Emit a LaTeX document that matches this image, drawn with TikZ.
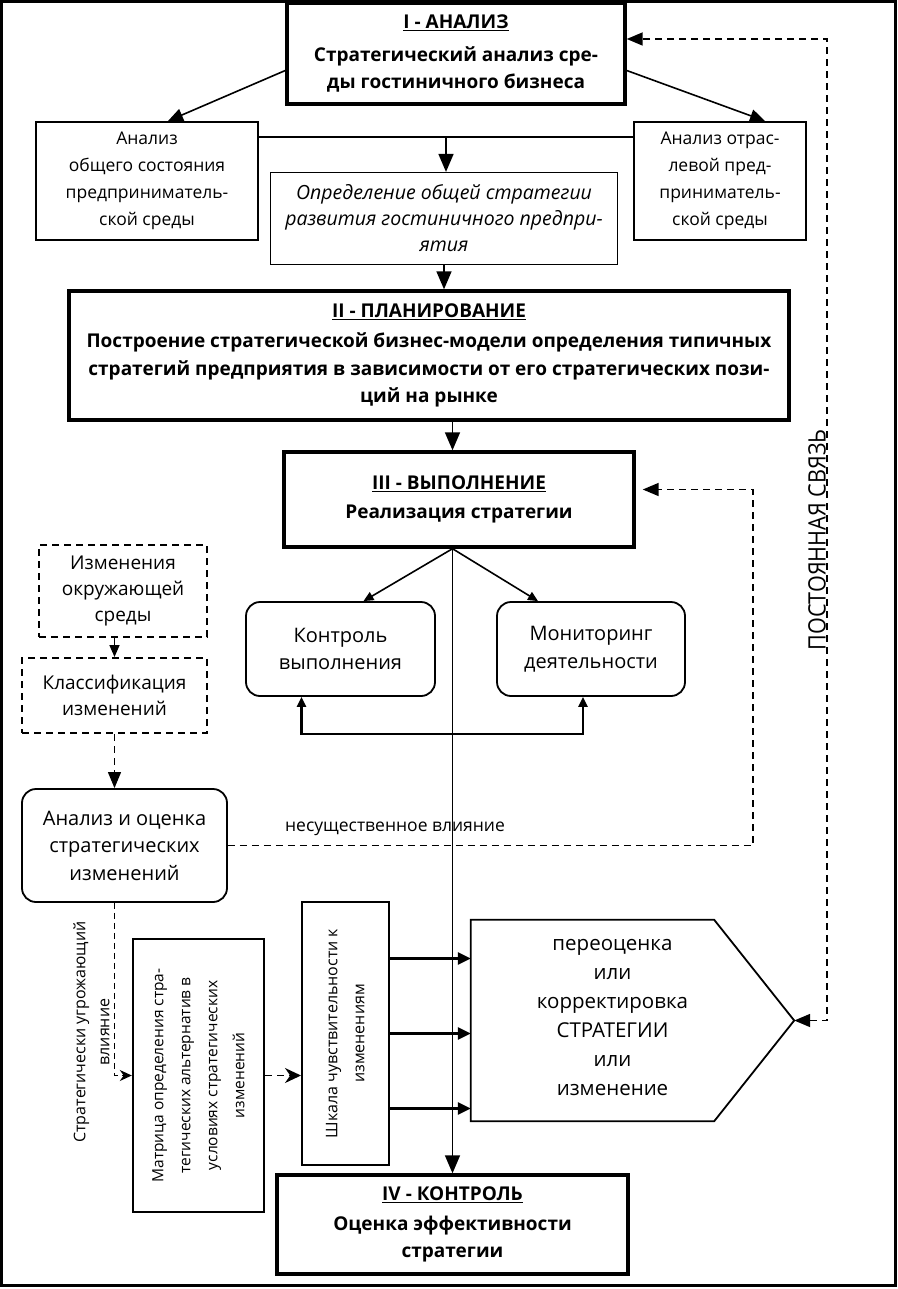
\documentclass[tikz,border=0pt]{standalone}
\usepackage{fontspec}
\setmainfont{Open Sans}
\usetikzlibrary{arrows.meta,calc}

\begin{document}
\begin{tikzpicture}[
  x=1pt,y=-1pt,
  every node/.style={align=center,inner sep=2pt,font=\fontsize{17.5}{27}\selectfont},
  stage/.style={draw,line width=3.4pt,font=\bfseries\fontsize{19}{27.5}\selectfont},
  box/.style={draw,line width=2pt},
  note/.style={draw,line width=1.2pt,font=\itshape\fontsize{19.5}{26}\selectfont},
  rbox/.style={draw,line width=1.8pt,rounded corners=14pt,font=\fontsize{20}{27.5}\selectfont},
  dbox/.style={draw,line width=2pt,dash pattern=on 7pt off 5pt,font=\fontsize{19}{26}\selectfont},
  vtext/.style={font=\fontsize{16}{24}\selectfont},
  arr/.style={-{Triangle[length=18pt,width=15pt]},line width=1.6pt},
  sarr/.style={-{Triangle[length=10pt,width=9pt]},line width=1.6pt},
  darr/.style={-{Triangle[length=16pt,width=13pt]},line width=1.6pt,dash pattern=on 7pt off 5pt}
]
  \useasboundingbox (0,0) rectangle (897,1289);
  \draw[line width=3pt] (1.5,1.5) rectangle (895.5,1285);

  % stages
  \node[stage,minimum width=338,minimum height=101] (phaseI) at (456,53.5)
    {\underline{I - АНАЛИЗ}\\[5pt]Стратегический анализ сре-\\ды гостиничного бизнеса};
  \node[stage,minimum width=720,minimum height=129] (phaseII) at (429,355.5)
    {\underline{II - ПЛАНИРОВАНИЕ}\\[3pt]Построение стратегической бизнес-модели определения типичных\\
     стратегий предприятия в зависимости от его стратегических пози-\\ций на рынке};
  \node[stage,minimum width=350,minimum height=95] (phaseIII) at (459,499.5)
    {\underline{III - ВЫПОЛНЕНИЕ}\\[1pt]Реализация стратегии};
  \node[stage,minimum width=351,minimum height=99] (phaseIV) at (452.5,1224.5)
    {\underline{IV - КОНТРОЛЬ}\\[2pt]Оценка эффективности\\стратегии};

  % analysis level
  \node[box,minimum width=222,minimum height=118] (env) at (147,181)
    {Анализ\\общего состояния\\предприниматель-\\ской среды};
  \node[box,minimum width=172,minimum height=118] (ind) at (720,181)
    {Анализ отрас-\\левой пред-\\приниматель-\\ской среды};
  \node[note,minimum width=347,minimum height=92] (gen) at (444,218.5)
    {Определение общей стратегии\\развития гостиничного предпри-\\ятия};

  % execution level
  \node[rbox,minimum width=189,minimum height=94] (ctrl) at (340.5,649)
    {Контроль\\выполнения};
  \node[rbox,minimum width=188,minimum height=94] (mon) at (591,649)
    {Мониторинг\\деятельности};

  % changes
  \node[dbox,minimum width=168,minimum height=92] (chg) at (123,591)
    {Изменения\\окружающей\\среды};
  \node[dbox,minimum width=185,minimum height=75] (cls) at (114.5,695.5)
    {Классификация\\изменений};
  \node[rbox,minimum width=205,minimum height=113] (eval) at (124.5,845.5)
    {Анализ и оценка\\стратегических\\изменений};
  \node[box,line width=2.4pt,minimum width=131,minimum height=273] (matrix) at (198.5,1075.5)
    {\rotatebox{90}{\fontsize{15.5}{27}\selectfont\begin{tabular}{@{}c@{}}Матрица определения стра-\\тегических альтернатив в\\
     условиях стратегических\\изменений\end{tabular}}};
  \node[box,minimum width=87,minimum height=263] (shkala) at (345.5,1033.5)
    {\rotatebox{90}{\fontsize{16}{27}\selectfont\begin{tabular}{@{}c@{}}Шкала чувствительности к\\изменениям\end{tabular}}};
  \node[minimum width=243,minimum height=201] (revise) at (592.5,1020.5) {};
  \coordinate (apex) at ($(revise.east)+(80,0)$);
  \draw[line width=1.8pt] (revise.north west) -- (revise.north east) -- (apex)
    -- (revise.south east) -- (revise.south west) -- cycle;
  \node[font=\fontsize{20.5}{29}\selectfont] (reviseText) at ($(revise.center)+(20,-3)$)
    {переоценка\\или\\корректировка\\СТРАТЕГИИ\\или\\изменение};

  % connectors
  \draw[-{Triangle[length=15pt,width=13pt]},line width=1.6pt] ($(phaseI.west)+(0,17)$) -- ($(env.north)+(21,0)$);
  \draw[-{Triangle[length=15pt,width=13pt]},line width=1.6pt] ($(phaseI.east)+(0,17)$) -- ($(ind.north)+(45,0)$);
  \draw[line width=2.8pt] ($(env.north east)+(0,16)$) -- ($(ind.north west)+(0,16)$);
  \coordinate (join) at ($(env.north east)!0.5!(ind.north west)+(0,16)$);
  \draw[arr] (join) -- (join |- gen.north);
  \draw[arr] (gen.south) -- (gen.south |- phaseII.north);
  \draw[arr] (phaseII.south -| phaseIV.north) -- (phaseIII.north -| phaseIV.north);
  \coordinate (split) at (phaseIII.south -| phaseIV.north);
  \draw[arr] (split) -- (phaseIV.north);
  \draw[sarr] (split) -- ($(ctrl.north)+(23,0)$);
  \draw[sarr] (split) -- ($(mon.north)+(-53,0)$);
  \draw[{Triangle[length=10pt,width=9pt]}-{Triangle[length=10pt,width=9pt]},line width=2.6pt]
    ($(ctrl.south)+(-39,0)$) -- ++(0,37) -| ($(mon.south)+(-8,0)$);

  \draw[darr,-{Triangle[length=12pt,width=10pt]}] (cls.north |- chg.south) -- (cls.north);
  \draw[darr,line width=1.2pt] (cls.south) -- (cls.south |- eval.north);
  \draw[darr] (eval.east) -- ++(525,0) |- ($(phaseIII.east)+(7,-10)$);
  \node (minor) at (395,829) {несущественное влияние};
  \draw[darr,line width=1.2pt,dash pattern=on 6pt off 4pt,-{Stealth[length=12pt,width=11pt]}]
    (eval.south -| cls.south) |- (matrix.west);
  \node[vtext,rotate=90] (threat) at (91.5,1032) {Стратегически угрожающий\\влияние};
  \draw[darr,-{Stealth[length=16pt,width=15pt]}] (matrix.east) -- (matrix.east -| shkala.west);
  \foreach \dy [count=\i] in {-75,0,75} {
    \coordinate (s\i) at ($(shkala.east)+(0,\dy)$);
    \draw[-{Triangle[length=13pt,width=12pt]},line width=2.6pt] (s\i) -- (s\i -| revise.west);
  }
  \draw[{Triangle[length=16pt,width=13pt]}-{Triangle[length=16pt,width=13pt]},line width=1.8pt,
    dash pattern=on 7pt off 5pt] (apex) -- ++(33,0) |- ($(phaseI.east)+(0,-14.5)$);
  \node[rotate=90,anchor=south,inner sep=1pt] (link) at (827,540)
    {\scalebox{0.9}[1]{\fontsize{24}{24}\selectfont ПОСТОЯННАЯ СВЯЗЬ}};
\end{tikzpicture}
\end{document}
